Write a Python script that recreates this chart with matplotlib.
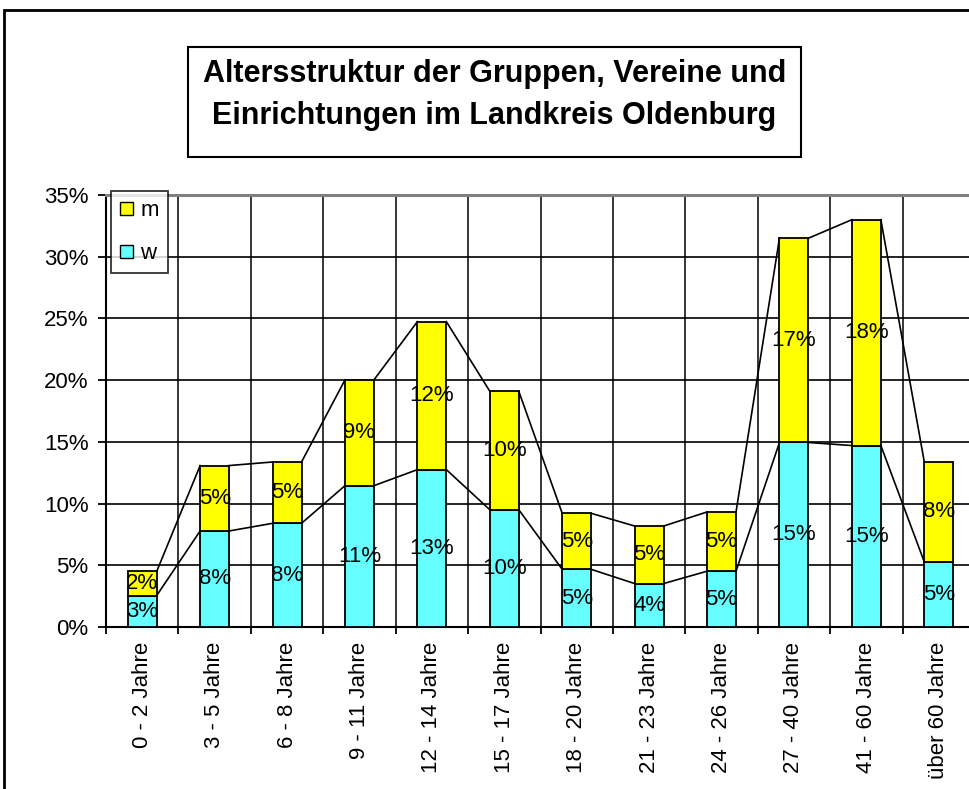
import matplotlib
matplotlib.use("Agg")
import matplotlib.pyplot as plt
from matplotlib.patches import Rectangle, Patch
import numpy as np

categories = ["0 - 2 Jahre", "3 - 5 Jahre", "6 - 8 Jahre", "9 - 11 Jahre",
              "12 - 14 Jahre", "15 - 17 Jahre", "18 - 20 Jahre", "21 - 23 Jahre",
              "24 - 26 Jahre", "27 - 40 Jahre", "41 - 60 Jahre", "über 60 Jahre"]
w_vals = [2.55, 7.78, 8.4, 11.45, 12.75, 9.5, 4.67, 3.52, 4.52, 14.95, 14.7, 5.27]
m_vals = [1.95, 5.3, 4.97, 8.57, 11.99, 9.6, 4.54, 4.66, 4.8, 16.55, 18.3, 8.1]
y_ticks = [0, 5, 10, 15, 20, 25, 30, 35]

plt.rcParams['font.family'] = ['Liberation Sans', 'DejaVu Sans']

fig = plt.figure(figsize=(9.69, 7.89), dpi=100)
W, H = 969, 789
ax = fig.add_axes([106 / W, 1 - 627 / H, (975 - 106) / W, (627 - 195) / H])

x = np.arange(len(categories))
bw = 0.4
w = np.array(w_vals)
m = np.array(m_vals)

ax.bar(x, w, bw, color="#66FFFF", edgecolor="black", linewidth=1.3, zorder=3, label="w")
ax.bar(x, m, bw, bottom=w, color="#FFFF00", edgecolor="black", linewidth=1.3, zorder=3, label="m")

# series lines
for i in range(len(x) - 1):
    for top in (w, w + m):
        ax.plot([x[i] + bw / 2, x[i + 1] - bw / 2], [top[i], top[i + 1]],
                color="black", linewidth=1.2, zorder=4)


def pct(v):
    return f"{int(v + 0.5)}%"


# data labels
for i in range(len(x)):
    ax.text(x[i], w[i] / 2, pct(w[i]), ha="center", va="center",
            fontsize=16, zorder=5)
    ax.text(x[i], w[i] + m[i] / 2, pct(m[i]), ha="center", va="center",
            fontsize=16, zorder=5)

ax.set_xlim(-0.5, len(x) - 0.5)
ax.set_ylim(0, 35)
ax.set_yticks(y_ticks)
ax.set_yticklabels([f"{t}%" for t in y_ticks], fontsize=16)
ax.set_xticks(x)
ax.set_xticklabels(categories, rotation=90, fontsize=16)
ax.tick_params(axis="x", length=0, pad=10.5)
ax.set_xticks(np.arange(-0.5, len(x), 1), minor=True)
ax.tick_params(axis="x", which="minor", length=5, width=1.3, direction="out")
ax.tick_params(axis="y", length=6, width=1.3, direction="out", pad=6.5)

ax.grid(True, axis="y", color="black", linewidth=1.2, zorder=0)
ax.grid(True, axis="x", which="minor", color="black", linewidth=1.1, zorder=0)
ax.grid(False, axis="x", which="major")
ax.set_axisbelow(True)

ax.spines["right"].set_visible(False)
ax.spines["top"].set_color("#808080")
ax.spines["top"].set_linewidth(2.2)
ax.spines["left"].set_linewidth(1.5)
ax.spines["bottom"].set_linewidth(1.5)

# legend
handles = [Patch(facecolor="#FFFF00", edgecolor="black", label="m"),
           Patch(facecolor="#66FFFF", edgecolor="black", label="w")]
leg = ax.legend(handles=handles, loc="upper left", bbox_to_anchor=(5 / 869, 1 + 4 / 432),
                fontsize=16, frameon=True, fancybox=False, edgecolor="black",
                handlelength=0.55, handleheight=0.55, handletextpad=0.35,
                borderpad=0.42, labelspacing=0.98, borderaxespad=0)
leg.get_frame().set_linewidth(1.3)
leg.set_zorder(10)

# title box
fig.text((188 + 801) / 2 / W, 1 - 95 / H,
         "Altersstruktur der Gruppen, Vereine und\nEinrichtungen im Landkreis Oldenburg",
         ha="center", va="center", fontsize=22, fontweight="bold", linespacing=1.5)
fig.patches.append(Rectangle((188 / W, 1 - 157 / H), (801 - 188) / W, (157 - 47) / H,
                             transform=fig.transFigure, fill=False, edgecolor="black",
                             linewidth=1.5))
# outer chart frame
fig.patches.append(Rectangle((4 / W, -0.1), 1.2, 1.1 - 10 / H,
                             transform=fig.transFigure, fill=False, edgecolor="black",
                             linewidth=2.0))

fig.savefig("out.png", dpi=100)
